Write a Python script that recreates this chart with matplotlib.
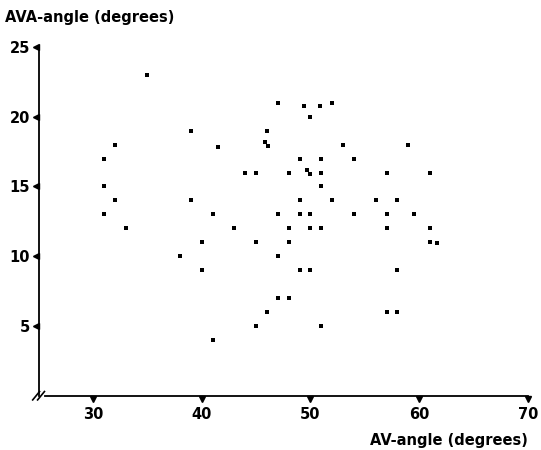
import matplotlib.pyplot as plt
import numpy as np

plt.rcParams['font.family'] = ['DejaVu Sans']

# AV-angle vs AVA-angle
av_angle = [35, 39, 32, 41.5, 31, 31, 32, 39, 31, 41, 33, 40, 38,
            47, 49.4, 50.9, 52, 50, 46, 45.8, 46.1, 53, 49, 51, 54,
            44, 45, 48, 49.7, 50, 51, 51, 49, 52, 47, 49, 50, 54,
            43, 48, 50, 51, 45, 48, 47, 40, 49, 50,
            59, 57, 61, 56, 58, 57, 59.5, 57, 61, 61, 61.6, 58, 57, 58,
            47, 48, 46, 45, 51, 41]
ava_angle = [23, 19, 18, 17.8, 17, 15, 14, 14, 13, 13, 12, 11, 10,
             21, 20.8, 20.8, 21, 20, 19, 18.2, 17.9, 18, 17, 17, 17,
             16, 16, 16, 16.2, 15.9, 16, 15, 14, 14, 13, 13, 13, 13,
             12, 12, 12, 12, 11, 11, 10, 9, 9, 9,
             18, 16, 16, 14, 14, 13, 13, 12, 12, 11, 10.95, 9, 6, 6,
             7, 7, 6, 5, 5, 4]
x_ticks = [30, 40, 50, 60, 70]
y_ticks = [5, 10, 15, 20, 25]

fig = plt.figure(figsize=(5.41, 4.5), dpi=100)
ax = fig.add_axes([0.0713, 0.1206, 0.9047, 0.775])

ax.plot(av_angle, ava_angle, 's', color='black', markersize=2.2, markeredgewidth=0)

ax.set_xlim(25, 70)
ax.set_ylim(0, 25)

for s in ['top', 'right']:
    ax.spines[s].set_visible(False)
ax.spines['left'].set_linewidth(1.3)
ax.spines['bottom'].set_linewidth(1.3)
ax.spines['bottom'].set_bounds(25.6, 70)

ax.set_xticks(x_ticks)
ax.set_yticks(y_ticks)
ax.tick_params(length=0, labelsize=10.5)
ax.tick_params(axis='x', pad=8)
ax.tick_params(axis='y', pad=6)
for lab in ax.get_xticklabels() + ax.get_yticklabels():
    lab.set_fontweight('bold')

# little triangle tick marks
ax.plot(x_ticks, [-0.25] * len(x_ticks), 'v', color='black', markersize=4, clip_on=False)
ax.plot([24.8] * len(y_ticks), y_ticks, '<', color='black', markersize=4, clip_on=False)

# axis break at the origin
for dx in [-0.006, 0.004]:
    ax.plot([dx - 0.006, dx + 0.008], [-0.012, 0.012], transform=ax.transAxes,
            color='black', linewidth=1.2, clip_on=False)

fig.text(0.01, 0.962, 'AVA-angle (degrees)', fontsize=10.5, fontweight='bold',
         ha='left', va='center')
fig.text(0.976, 0.022, 'AV-angle (degrees)', fontsize=10.5, fontweight='bold',
         ha='right', va='center')

fig.savefig('out.png', dpi=100)
